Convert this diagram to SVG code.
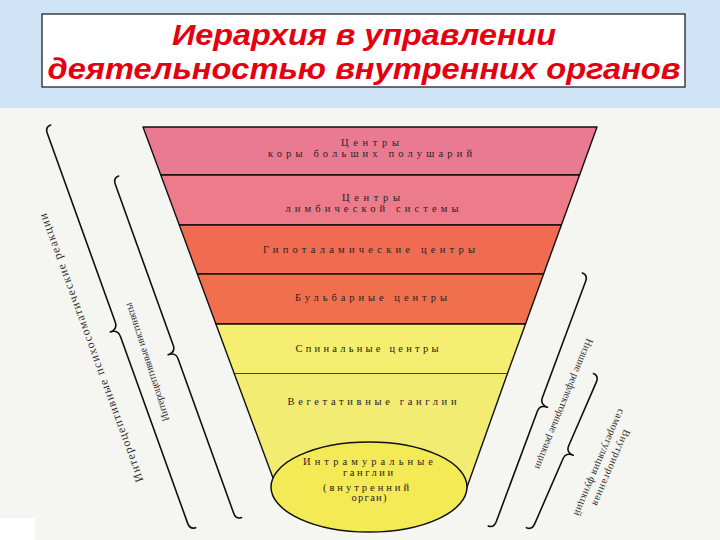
<svg xmlns="http://www.w3.org/2000/svg" width="720" height="540" viewBox="0 0 720 540">
<style>
.band{stroke:#111;stroke-width:1.4;stroke-linejoin:round}
.bt{font-family:"Liberation Serif","DejaVu Serif",serif;font-size:10.5px;fill:#2a2222;text-anchor:middle}
.lbl{font-family:"Liberation Serif","DejaVu Serif",serif;fill:#333;text-anchor:middle}
.brace{fill:none;stroke:#111;stroke-width:1.6;stroke-linecap:round;stroke-linejoin:round}
.title{font-family:"Liberation Sans",Arial,sans-serif;font-weight:bold;font-style:italic;font-size:30px;fill:#e3000f;text-anchor:middle}
</style>
<rect x="0" y="0" width="720" height="540" fill="#f5f5f1"/>
<rect x="0" y="0" width="720" height="108" fill="#cfe4f7"/>
<rect x="0" y="518" width="35" height="22" fill="#ffffff"/>
<g id="title">
<rect x="42" y="14" width="643" height="73" fill="#ffffff" stroke="#111" stroke-width="1.2"/>
<text class="title" x="364" y="45" textLength="384" lengthAdjust="spacingAndGlyphs">Иерархия в управлении</text>
<text class="title" x="364" y="79" textLength="633" lengthAdjust="spacingAndGlyphs">деятельностью внутренних органов</text>
</g>
<g id="level-cortex">
<polygon class="band" points="143,127 597,127 579.6,175 160.8,175" fill="#ea7a92"/>
<text class="bt" x="370" y="146" textLength="58" lengthAdjust="spacing">Центры</text>
<text class="bt" x="370" y="157" textLength="204" lengthAdjust="spacing">коры больших полушарий</text>
</g>
<g id="level-limbic">
<polygon class="band" points="160.8,175 579.6,175 561.4,225 179.3,225" fill="#ee7b89"/>
<text class="bt" x="371" y="201" textLength="58" lengthAdjust="spacing">Центры</text>
<text class="bt" x="372" y="212" textLength="173" lengthAdjust="spacing">лимбической системы</text>
</g>
<g id="level-hypothalamus">
<polygon class="band" points="179.3,225 561.4,225 543.6,274 197.4,274" fill="#f06b52"/>
<text class="bt" x="369" y="252.5" textLength="212" lengthAdjust="spacing">Гипоталамические центры</text>
</g>
<g id="level-bulbar">
<polygon class="band" points="197.4,274 543.6,274 525.5,324 215.9,324" fill="#f0704e"/>
<text class="bt" x="371" y="300.5" textLength="152" lengthAdjust="spacing">Бульбарные центры</text>
</g>
<g id="level-spinal">
<polygon class="band" points="215.9,324 525.5,324 507.3,374 234.4,374" fill="#f5ee70"/>
<text class="bt" x="367" y="351.5" textLength="143" lengthAdjust="spacing">Спинальные центры</text>
</g>
<g id="level-vegetative">
<polygon points="234.4,374 507.3,374 466,490 273,478" fill="#f3ec72"/>
<path class="band" fill="none" d="M234.4,374 L273,478 M507.3,374 L466,490"/>
<text class="bt" x="372" y="404.5" textLength="169" lengthAdjust="spacing">Вегетативные ганглии</text>
</g>
<g id="level-intramural">
<ellipse cx="369" cy="487" rx="98" ry="45" fill="#f3ea56" stroke="#111" stroke-width="1.5"/>
<text class="bt" x="368" y="465" textLength="130" lengthAdjust="spacing">Интрамуральные</text>
<text class="bt" x="368" y="475.5" textLength="50" lengthAdjust="spacing">ганглии</text>
<text class="bt" x="366" y="490.5" textLength="86" lengthAdjust="spacing">(внутренний</text>
<text class="bt" x="369" y="501" textLength="35" lengthAdjust="spacing">орган)</text>
</g>
<g id="connectors">
<path class="brace" transform="translate(45,127) rotate(-19.8)" d="M6,0 Q0,0 0,7 L0,207 Q0,215 -8,215 Q0,215 0,223 L0,421 Q0,428 6,428"/>
<path class="brace" transform="translate(113,178) rotate(-19.8)" d="M6,0 Q0,0 0,7 L0,178 Q0,185 -8,185 Q0,185 0,192 L0,356 Q0,363 6,363"/>
<path class="brace" transform="translate(588,275) rotate(20.4)" d="M-6,0 Q0,0 0,7 L0,131 Q0,138 8,138 Q0,138 0,145 L0,263 Q0,270 -6,270"/>
<path class="brace" transform="translate(599,376) rotate(23.5)" d="M-6,0 Q0,0 0,7 L0,76 Q0,83 8,83 Q0,83 0,90 L0,161 Q0,168 -6,168"/>
</g>
<g id="label-psychosomatic">
<text class="lbl" font-size="12" transform="translate(91,348) rotate(-110)" y="4" textLength="285" lengthAdjust="spacing">Интероцептивные психосоматические реакции</text>
</g>
<g id="label-instincts">
<text class="lbl" font-size="10.5" transform="translate(147,362) rotate(-108)" y="3.5" textLength="124" lengthAdjust="spacing">Интероцептивные инстинкты</text>
</g>
<g id="label-reflex">
<text class="lbl" font-size="10.5" transform="translate(564,404) rotate(112)" y="3.5" textLength="140" lengthAdjust="spacing">Низшие рефлекторные реакции</text>
</g>
<g id="label-selfregulation">
<g transform="translate(605,465) rotate(113)">
<text class="lbl" font-size="10.5" x="0" y="-3.5" textLength="82" lengthAdjust="spacing">Внутриорганная</text>
<text class="lbl" font-size="10.5" x="0" y="9.5" textLength="115" lengthAdjust="spacing">саморегуляция функций</text>
</g>
</g>
</svg>
